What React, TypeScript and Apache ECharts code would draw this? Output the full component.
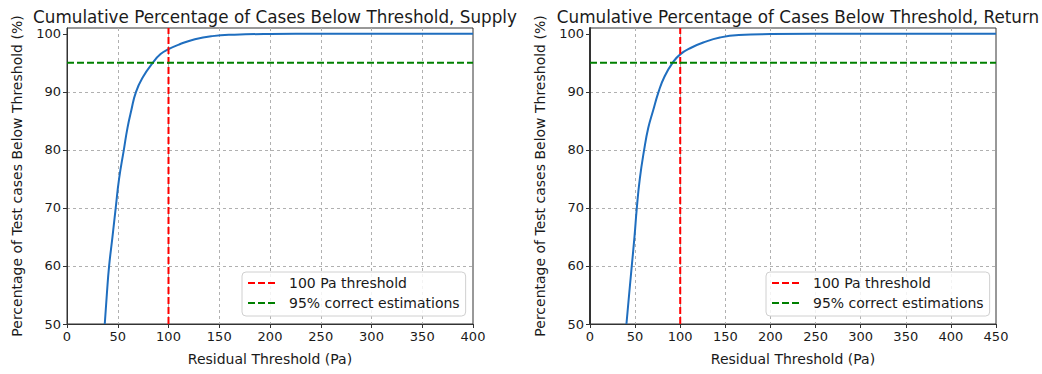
import React, { useEffect, useRef } from "react";
import * as echarts from "echarts";

const supplyX = [37.2, 39.2, 41.5, 44.8, 48, 51.3, 56, 59.6, 63.2, 68, 75, 84.5, 92.2, 100, 111, 126, 143, 165, 200, 250, 400];
const supplyY = [50, 55, 60, 65, 70, 75, 80, 83.8, 86.7, 90, 92.6, 95, 96.5, 97.35, 98.2, 99.07, 99.6, 99.85, 99.97, 100, 100];
const returnX = [40.4, 43.3, 46.3, 49.3, 51.9, 55.2, 60, 64.6, 69.8, 76, 82.5, 91.5, 100.3, 112.6, 125.5, 144, 165, 200, 250, 450];
const returnY = [50, 55, 60, 65, 70, 75, 80, 83.8, 86.7, 90, 92.6, 95, 96.5, 97.64, 98.5, 99.36, 99.8, 99.95, 100, 100];
const yTicks = [50, 60, 70, 80, 90, 100];
const xMaxes = [400, 450];
const titles = [
  "Cumulative Percentage of Cases Below Threshold, Supply",
  "Cumulative Percentage of Cases Below Threshold, Return",
];
const thresholdPa = 100;
const correctPct = 95;
const yMin = 50;
const yMax = 101;

const FONT = "DejaVu Sans";
const TXT = "#1a1a1a";

export default function App() {
  const ref = useRef<HTMLDivElement>(null);
  useEffect(() => {
    if (!ref.current) return;
    const chart = echarts.init(ref.current, null, { renderer: "svg" });
    const grids = [
      { left: 67, width: 406, top: 28, height: 296 },
      { left: 590, width: 406, top: 28, height: 296 },
    ];
    const curves = [supplyX.map((x, i) => [x, supplyY[i]]), returnX.map((x, i) => [x, returnY[i]])];
    const series: any[] = [];
    const xAxes: any[] = [];
    const yAxes: any[] = [];
    const titleArr: any[] = [];
    const legends: any[] = [];
    grids.forEach((g, i) => {
      xAxes.push({
        type: "value",
        gridIndex: i,
        min: 0,
        max: xMaxes[i],
        interval: 50,
        name: "Residual Threshold (Pa)",
        nameLocation: "middle",
        nameGap: 28,
        nameTextStyle: { fontFamily: FONT, fontSize: 14, color: TXT },
        axisLine: { show: true, lineStyle: { color: "#333", width: 1 } },
        axisTick: { show: true, length: 4, lineStyle: { color: "#333" } },
        axisLabel: { fontFamily: FONT, fontSize: 13, color: TXT, margin: 6 },
        splitLine: { show: true, showMinLine: false, showMaxLine: false, lineStyle: { color: "#b0b0b0", type: [3, 3], width: 1 } },
      });
      yAxes.push({
        type: "value",
        gridIndex: i,
        min: yMin,
        max: yMax,
        interval: 10,
        name: "Percentage of Test cases Below Threshold (%)",
        nameLocation: "middle",
        nameGap: 43,
        nameTextStyle: { fontFamily: FONT, fontSize: 14, color: TXT },
        axisLine: { show: true, lineStyle: { color: "#333", width: i === 1 ? 2 : 1 } },
        axisTick: { show: true, length: 4, lineStyle: { color: "#333" }, customValues: yTicks },
        axisLabel: { fontFamily: FONT, fontSize: 13, color: TXT, margin: 6, customValues: yTicks },
        splitLine: { show: true, showMinLine: false, showMaxLine: false, lineStyle: { color: "#b0b0b0", type: [3, 3], width: 1 } },
      });
      titleArr.push({
        text: titles[i],
        left: g.left + g.width / 2,
        textAlign: "center",
        top: 3,
        textStyle: { fontFamily: FONT, fontSize: 16.8, fontWeight: "normal", color: TXT },
      });
      series.push({
        type: "line",
        name: "curve" + i,
        xAxisIndex: i,
        yAxisIndex: i,
        data: curves[i],
        showSymbol: false,
        symbol: "none",
        smooth: 0.5,
        lineStyle: { color: "#1f6ebf", width: 2 },
        z: 3,
      });
      series.push({
        type: "line",
        name: "100 Pa threshold",
        xAxisIndex: i,
        yAxisIndex: i,
        data: [[thresholdPa, yMin], [thresholdPa, yMax]],
        symbol: "none",
        color: "#ff0000",
        lineStyle: { color: "#ff0000", width: 2, type: [7, 3] },
        z: 4,
      });
      series.push({
        type: "line",
        name: "95% correct estimations",
        xAxisIndex: i,
        yAxisIndex: i,
        data: [[0, correctPct], [xMaxes[i], correctPct]],
        symbol: "none",
        color: "#008000",
        lineStyle: { color: "#008000", width: 2, type: [7, 3] },
        z: 4,
      });
      legends.push({
        orient: "vertical",
        left: i === 0 ? 242 : 766,
        top: 272,
        data: ["100 Pa threshold", "95% correct estimations"],
        itemWidth: 30,
        itemHeight: 14,
        itemGap: 6,
        padding: [4, 6, 6, 5],
        backgroundColor: "rgba(255,255,255,0.85)",
        borderColor: "#d0d0d0",
        borderWidth: 1,
        borderRadius: 4,
        selectedMode: false,
        itemStyle: { opacity: 0 },
        textStyle: { fontFamily: FONT, fontSize: 14, color: TXT, padding: [0, 0, 0, 6] },
        z: 10,
      });
    });
    chart.setOption({
      animation: false,
      backgroundColor: "#ffffff",
      title: titleArr,
      legend: legends,
      grid: grids.map((g) => ({ ...g, show: true, borderColor: "#333", borderWidth: 1, backgroundColor: "transparent" })),
      xAxis: xAxes,
      yAxis: yAxes,
      series,
    });
    return () => chart.dispose();
  }, []);
  return <div ref={ref} style={{ position: "absolute", left: 0, top: 0, width: 1042, height: 374 }} />;
}
